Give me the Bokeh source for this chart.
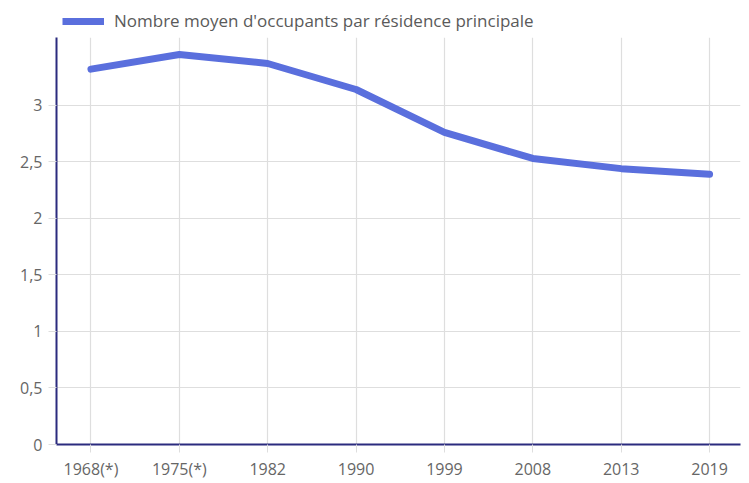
from bokeh.plotting import figure
from bokeh.layouts import column
from bokeh.models import Range1d, FixedTicker, Legend, LegendItem
from bokeh.embed import file_html
from bokeh.resources import INLINE

years = ["1968(*)", "1975(*)", "1982", "1990", "1999", "2008", "2013", "2019"]
occupants = [3.32, 3.45, 3.37, 3.14, 2.76, 2.53, 2.44, 2.39]
y_ticks = [0, 0.5, 1, 1.5, 2, 2.5, 3]
y_labels = ["0", "0,5", "1", "1,5", "2", "2,5", "3"]
series_name = "Nombre moyen d'occupants par résidence principale"

xs = list(range(len(years)))

FONT = "Open Sans"
LINE_COLOR = "#5a6fdd"
axis_color = "#2b2b7e"
grid_color = "#dedede"
label_color = "#666666"
W = 741

# --- legend strip (top) ---
top = figure(width=W, height=32, output_backend="svg", toolbar_location=None,
             x_range=Range1d(-0.39, 7.35), y_range=Range1d(100, 101),
             min_border_left=0, min_border_right=0, min_border_top=0, min_border_bottom=0)
top.axis.visible = False
top.grid.visible = False
top.outline_line_color = None
lr = top.line(xs, occupants, line_color=LINE_COLOR, line_width=7)
legend = Legend(items=[LegendItem(label=series_name, renderers=[lr])],
                location=(6, 0), orientation="horizontal",
                background_fill_alpha=0, border_line_color=None,
                padding=0, margin=0, glyph_width=42, glyph_height=14,
                label_standoff=10, label_text_font=FONT, label_text_font_size="17px",
                label_text_color="#5a5a5a")
top.add_layout(legend, "center")

# --- main chart ---
p = figure(width=W, height=450, output_backend="svg", toolbar_location=None,
           x_range=Range1d(-0.39, 7.35), y_range=Range1d(0, 3.6),
           min_border_left=56, min_border_right=1, min_border_top=5, min_border_bottom=36)
p.outline_line_color = None

r = p.line(xs, occupants, line_color=LINE_COLOR, line_width=7, line_join="round", line_cap="round")

p.xaxis.ticker = FixedTicker(ticks=xs)
p.xaxis.major_label_overrides = {i: y for i, y in enumerate(years)}
p.yaxis.ticker = FixedTicker(ticks=y_ticks)
p.yaxis.major_label_overrides = {t: l for t, l in zip(y_ticks, y_labels)}

for ax in (p.xaxis[0], p.yaxis[0]):
    ax.axis_line_color = axis_color
    ax.axis_line_width = 2
    ax.major_tick_line_color = grid_color
    ax.major_tick_in = 0
    ax.major_tick_out = 8
    ax.minor_tick_line_color = None
    ax.major_label_text_font = FONT
    ax.major_label_text_font_size = "16px"
    ax.major_label_text_color = label_color
p.xaxis.major_label_standoff = 5
p.yaxis.major_label_standoff = 6

p.xgrid.grid_line_color = grid_color
p.ygrid.grid_line_color = grid_color
p.xgrid.grid_line_width = 1.2
p.ygrid.grid_line_width = 1.2

layout = column(top, p, spacing=0)
open("out.html", "w").write(file_html(layout, INLINE))
